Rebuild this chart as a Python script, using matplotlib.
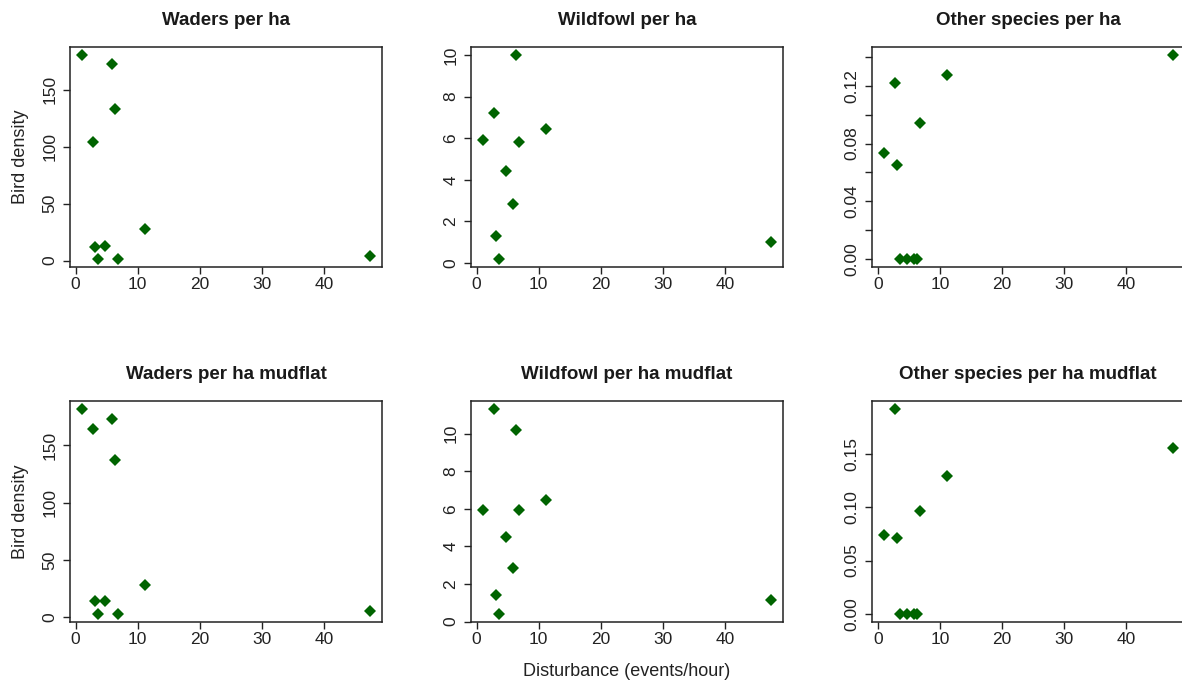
import matplotlib
matplotlib.use('Agg')
import matplotlib.pyplot as plt
from matplotlib.ticker import FixedLocator, FixedFormatter

plt.rcParams['font.family'] = ['Liberation Sans', 'DejaVu Sans']
plt.rcParams['axes.xmargin'] = 0.04
plt.rcParams['axes.ymargin'] = 0.04

# disturbance (events/hour), one value per site
disturbance = [0.95, 2.8, 3.05, 3.55, 4.75, 5.8, 6.35, 6.75, 11.2, 47.5]

waders = [180.5, 104.5, 11.5, 1.5, 12.8, 173, 133, 1.5, 27.5, 4]
wildfowl = [5.92, 7.2, 1.28, 0.19, 4.4, 2.85, 10.0, 5.84, 6.45, 1.0]
other = [0.0736, 0.1218, 0.065, 0, 0, 0, 0, 0.0943, 0.1276, 0.1414]
waders_mud = [181.6, 164.4, 14.3, 3.2, 14.3, 172.9, 137, 3.2, 28, 5.5]
wildfowl_mud = [5.94, 11.3, 1.39, 0.41, 4.5, 2.83, 10.18, 5.94, 6.48, 1.17]
other_mud = [0.0741, 0.192, 0.0716, 0, 0, 0, 0, 0.0965, 0.129, 0.1556]

titles = ['Waders per ha', 'Wildfowl per ha', 'Other species per ha',
          'Waders per ha mudflat', 'Wildfowl per ha mudflat', 'Other species per ha mudflat']
series = [waders, wildfowl, other, waders_mud, wildfowl_mud, other_mud]

x_ticks = [0, 10, 20, 30, 40]
y_ticks = [[0, 50, 100, 150],
           [0, 2, 4, 6, 8, 10],
           [0, 0.02, 0.04, 0.06, 0.08, 0.10, 0.12, 0.14],
           [0, 50, 100, 150],
           [0, 2, 4, 6, 8, 10],
           [0, 0.05, 0.10, 0.15]]
y_labels = [['0', '50', '100', '150'],
            ['0', '2', '4', '6', '8', '10'],
            ['0.00', '', '0.04', '', '0.08', '', '0.12', ''],
            ['0', '50', '100', '150'],
            ['0', '2', '4', '6', '8', '10'],
            ['0.00', '0.05', '0.10', '0.15']]

W, H = 1182, 681
fig = plt.figure(figsize=(W / 100, H / 100), dpi=100)

col_left = [70, 471, 872.3]
row_box = [(47, 267), (401, 622)]
box_w = 312

for i in range(6):
    r, c = divmod(i, 3)
    top, bot = row_box[r]
    ax = fig.add_axes([col_left[c] / W, 1 - bot / H, box_w / W, (bot - top) / H])
    ax.plot(disturbance, series[i], 'D', color='#006400', ms=6, mew=0)
    ax.xaxis.set_major_locator(FixedLocator(x_ticks))
    ax.yaxis.set_major_locator(FixedLocator(y_ticks[i]))
    ax.yaxis.set_major_formatter(FixedFormatter(y_labels[i]))
    ax.tick_params(direction='out', length=5, width=1, labelsize=12.5,
                   colors='#222222', labelcolor='#222222')
    ax.tick_params(axis='x', pad=2)
    ax.tick_params(axis='y', pad=4, labelrotation=90)
    for lab in ax.get_yticklabels():
        lab.set_va('center')
    for sp in ax.spines.values():
        sp.set_linewidth(1.1)
        sp.set_color('#222222')
    ax.set_title(titles[i], fontsize=13.5, fontweight='bold', pad=15.5, color='#1a1a1a')
    if c == 0:
        ax.set_ylabel('Bird density', fontsize=13, color='#222222', va='baseline')
        ax.yaxis.set_label_coords(-0.145, 0.5)
    if i == 4:
        ax.set_xlabel('Disturbance (events/hour)', fontsize=13, color='#222222', va='baseline')
        ax.xaxis.set_label_coords(0.5, -0.245)

fig.savefig('out.png', dpi=100)
